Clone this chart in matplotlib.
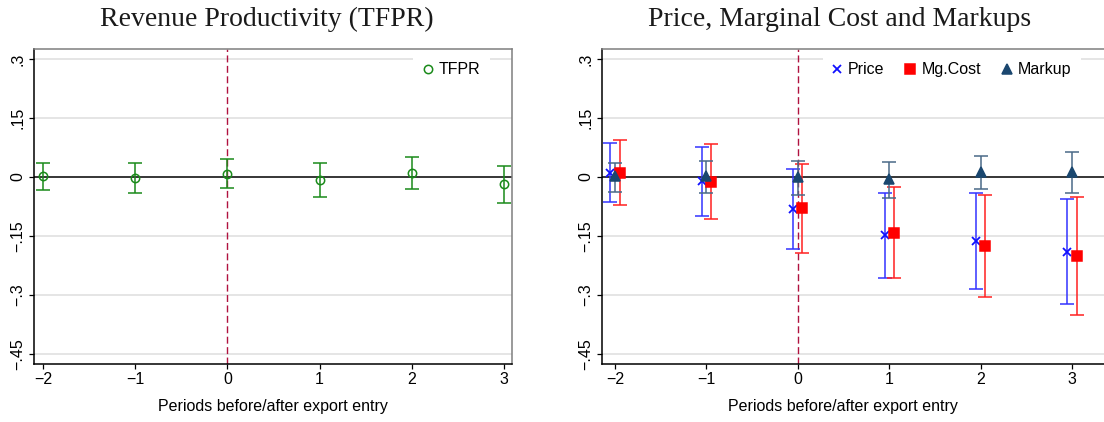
import matplotlib
matplotlib.use("Agg")
import matplotlib.pyplot as plt
import numpy as np

periods = [-2, -1, 0, 1, 2, 3]

tfpr = [0.003, -0.003, 0.008, -0.008, 0.010, -0.019]
tfpr_lo = [-0.032, -0.040, -0.029, -0.051, -0.030, -0.067]
tfpr_hi = [0.035, 0.035, 0.046, 0.035, 0.050, 0.029]

price = [0.010, -0.011, -0.082, -0.148, -0.163, -0.190]
price_lo = [-0.064, -0.099, -0.184, -0.257, -0.286, -0.322]
price_hi = [0.086, 0.076, 0.020, -0.041, -0.041, -0.057]

mgcost = [0.010, -0.013, -0.080, -0.142, -0.175, -0.201]
mgcost_lo = [-0.072, -0.108, -0.192, -0.258, -0.305, -0.350]
mgcost_hi = [0.095, 0.085, 0.032, -0.025, -0.046, -0.052]

markup = [0.002, 0.002, 0.000, -0.006, 0.012, 0.012]
markup_lo = [-0.037, -0.041, -0.045, -0.053, -0.031, -0.041]
markup_hi = [0.036, 0.040, 0.040, 0.037, 0.053, 0.064]

yticks = [0.3, 0.15, 0, -0.15, -0.3, -0.45]
ytick_labels = [".3", ".15", "0", "\u2212.15", "\u2212.3", "\u2212.45"]
xtick_labels = ["\u22122", "\u22121", "0", "1", "2", "3"]

W, H = 1104, 422
fig = plt.figure(figsize=(W / 100, H / 100), dpi=100)
plt.rcParams['font.family'] = ['Liberation Sans', 'DejaVu Sans']

FS = 11.5

def px_axes(l, r, t, b):
    return fig.add_axes([l / W, 1 - b / H, (r - l) / W, (b - t) / H])

axL = px_axes(34, 512, 49, 364)
axR = px_axes(602, 1104, 49, 364)

def style(ax, xlim):
    ax.set_xlim(*xlim)
    ax.set_ylim(-0.4754, 0.3254)
    ax.set_yticks(yticks)
    ax.set_yticklabels(ytick_labels, rotation=90, va='center', fontsize=FS)
    ax.set_xticks(periods)
    ax.set_xticklabels(xtick_labels, fontsize=FS)
    ax.tick_params(axis='both', direction='out', length=3.5, width=0.9, color='black', pad=2.5)
    for y in yticks:
        if y != 0:
            ax.axhline(y, color='#e3e3e3', lw=1.3, zorder=0)
    ax.axhline(0, color='black', lw=1.1, zorder=1)
    ax.axvline(0, color='#b0123f', lw=1.0, ls=(0, (5, 2.5)), zorder=1)
    for s in ['left', 'bottom']:
        ax.spines[s].set_color('black')
        ax.spines[s].set_linewidth(1.1)
    for s in ['top', 'right']:
        ax.spines[s].set_color('#7f7f7f')
        ax.spines[s].set_linewidth(1.1)
    ax.set_xlabel("Periods before/after export entry", fontsize=FS)

style(axL, (-2.098, 3.087))
style(axR, (-2.142, 3.350))
axR.spines['right'].set_visible(False)
axL.xaxis.set_label_coords(0.5, -0.111)
axR.xaxis.set_label_coords((843 - 602) / 502, -0.111)

def eb(ax, x, y, lo, hi, color, ecolor, marker, ms, mfc, label, lw=1.1, mew=1.1):
    y = np.array(y); lo = np.array(lo); hi = np.array(hi)
    ax.errorbar(x, y, yerr=[y - lo, hi - y], fmt='none', ecolor=ecolor,
                elinewidth=lw, capsize=5, capthick=lw, zorder=3)
    ax.plot(x, y, ls='none', marker=marker, ms=ms, mfc=mfc, mec=color,
            mew=mew, label=label, zorder=4)

x = np.array(periods, dtype=float)
eb(axL, x, tfpr, tfpr_lo, tfpr_hi, '#1a8a1a', '#1a8a1a', 'o', 6, 'none', 'TFPR')

eb(axR, x - 0.05, price, price_lo, price_hi, '#1010ff', '#3333ff', 'x', 5.5, 'none', 'Price', mew=1.3)
eb(axR, x + 0.05, mgcost, mgcost_lo, mgcost_hi, '#ff0000', '#ff2020', 's', 6.5, '#ff0000', 'Mg.Cost')
eb(axR, x, markup, markup_lo, markup_hi, '#1a476f', '#4a6a88', '^', 7, '#1a476f', 'Markup')

legkw = dict(frameon=True, facecolor='white', edgecolor='none', framealpha=1,
             fontsize=FS, handlelength=0.6, handletextpad=0.4, borderaxespad=0.0,
             borderpad=0.6, fancybox=False)
legL = axL.legend(loc='upper right', bbox_to_anchor=(0.954, 0.988), **legkw)
legR = axR.legend(loc='upper right', bbox_to_anchor=(0.954, 0.988), ncol=3,
                  columnspacing=1.3, **legkw)

fig.text(267 / W, 1 - 26 / H, "Revenue Productivity (TFPR)", ha='center', va='baseline',
         fontsize=20, family=['Liberation Serif', 'DejaVu Serif'], color='#1a1a1a')
fig.text(840 / W, 1 - 26 / H, "Price, Marginal Cost and Markups", ha='center', va='baseline',
         fontsize=20, family=['Liberation Serif', 'DejaVu Serif'], color='#1a1a1a')

fig.savefig("out.png", dpi=100, facecolor='white')
